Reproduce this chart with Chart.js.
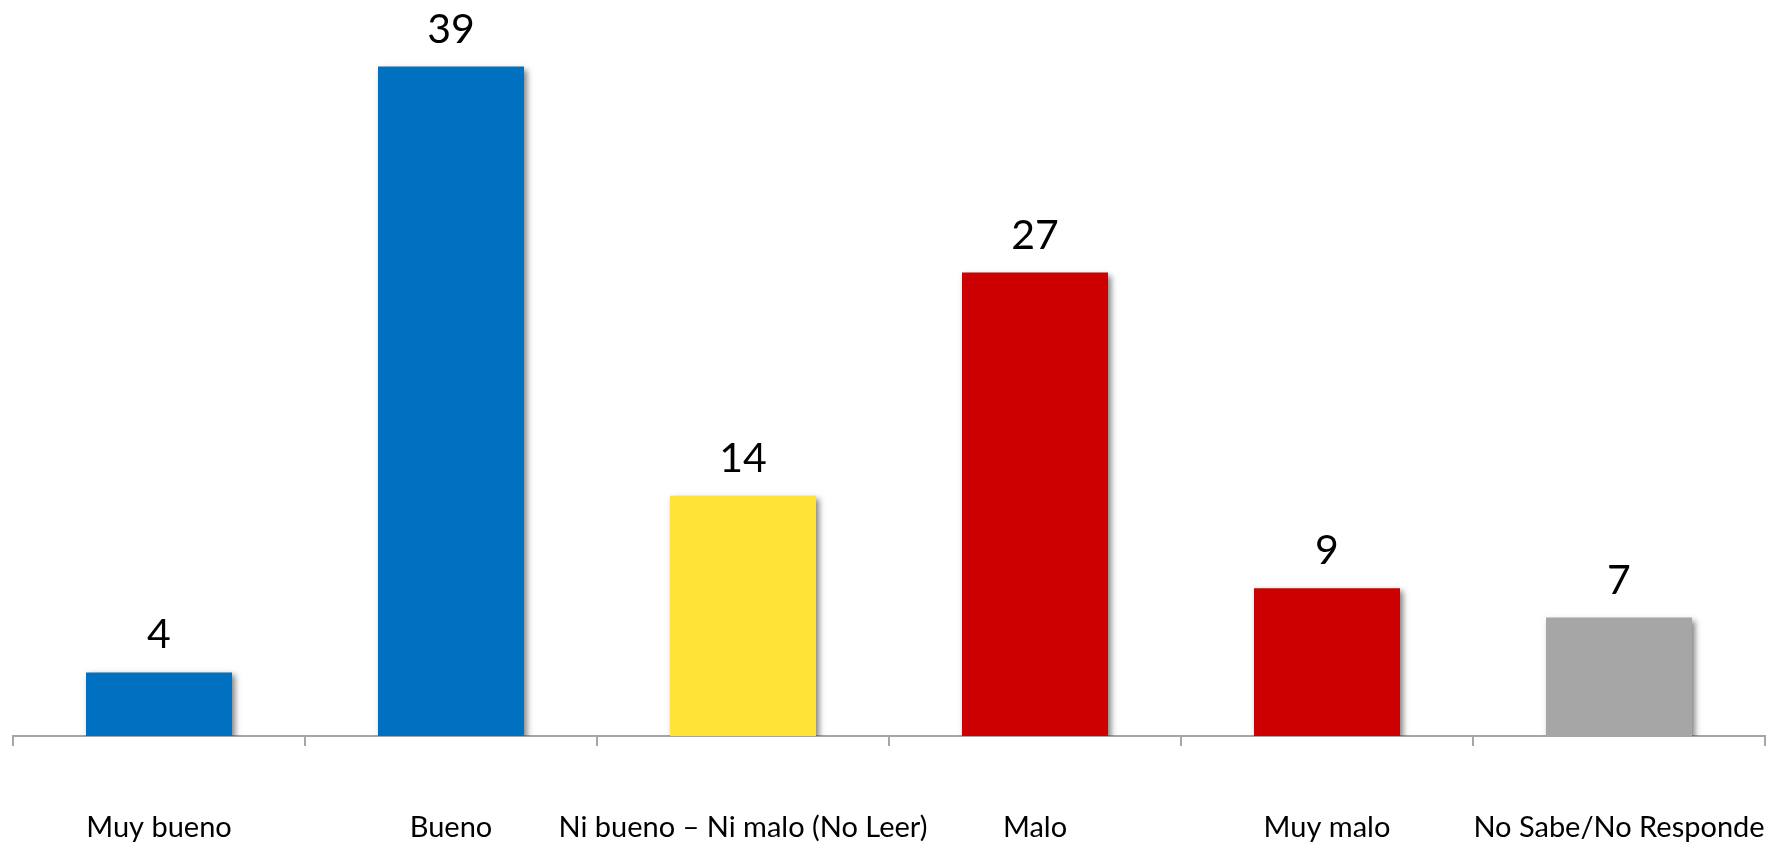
<!DOCTYPE html>
<html>
<head>
<meta charset="utf-8">
<script src="https://cdn.jsdelivr.net/npm/chart.js@4/dist/chart.umd.min.js"></script>
<style>
  html, body { margin: 0; padding: 0; background: #ffffff; overflow: hidden; }
  canvas { display: block; }
</style>
</head>
<body>
<canvas id="c" width="1781" height="844" style="width:1781px;height:844px"></canvas>
<script>
const categories = ["Muy bueno", "Bueno", "Ni bueno \u2013 Ni malo (No Leer)", "Malo", "Muy malo", "No Sabe/No Responde"];
const values = [3.7, 39, 14, 27, 8.6, 6.9];
const valueLabels = ["4", "39", "14", "27", "9", "7"];
const barColors = ["#0070C0", "#0070C0", "#FFE438", "#CC0000", "#CC0000", "#A6A6A6"];

const FONT = "Lato, 'Open Sans', sans-serif";

const shadowPlugin = {
  id: 'barShadow',
  beforeDatasetDraw(chart) {
    const ctx = chart.ctx;
    ctx.save();
    ctx.shadowColor = 'rgba(0,0,0,0.5)';
    ctx.shadowBlur = 6;
    ctx.shadowOffsetX = 3;
    ctx.shadowOffsetY = 3;
  },
  afterDatasetDraw(chart) {
    chart.ctx.restore();
  }
};

const valueLabelPlugin = {
  id: 'valueLabels',
  afterDatasetsDraw(chart) {
    const ctx = chart.ctx;
    const meta = chart.getDatasetMeta(0);
    ctx.save();
    ctx.fillStyle = '#000000';
    ctx.font = "41px " + FONT;
    ctx.textAlign = 'center';
    ctx.textBaseline = 'alphabetic';
    meta.data.forEach((bar, i) => {
      ctx.fillText(valueLabels[i], bar.x, bar.y - 24);
    });
    ctx.restore();
  }
};

new Chart(document.getElementById('c'), {
  type: 'bar',
  data: {
    labels: categories,
    datasets: [{
      data: values,
      backgroundColor: barColors,
      borderWidth: 0,
      barPercentage: 0.5,
      categoryPercentage: 1.0
    }]
  },
  options: {
    responsive: false,
    maintainAspectRatio: false,
    devicePixelRatio: 1,
    animation: false,
    layout: { padding: { top: 15, left: 13, right: 16, bottom: 0 } },
    plugins: {
      legend: { display: false },
      tooltip: { enabled: false }
    },
    scales: {
      y: {
        display: false,
        min: 0,
        max: 42
      },
      x: {
        offset: true,
        border: { display: true, color: '#A6A6A6', width: 2 },
        grid: {
          offset: true,
          drawOnChartArea: false,
          drawTicks: true,
          tickLength: 10,
          color: '#A6A6A6',
          lineWidth: 2
        },
        ticks: {
          color: '#000000',
          padding: 64,
          maxRotation: 0,
          autoSkip: false,
          font: { family: FONT, size: 29 }
        },
        afterFit(scale) {
          scale.height = 108;
          scale.paddingLeft = 0;
          scale.paddingRight = 0;
        }
      }
    }
  },
  plugins: [shadowPlugin, valueLabelPlugin]
});
</script>
</body>
</html>
